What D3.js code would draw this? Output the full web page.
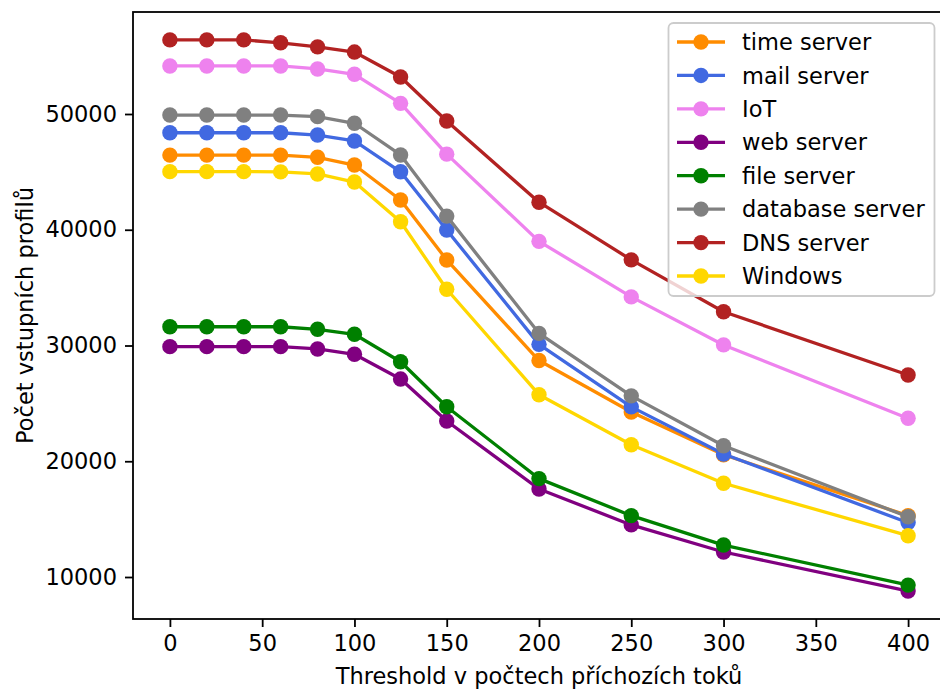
<!DOCTYPE html>
<html><head><meta charset="utf-8">
<script src="https://cdn.jsdelivr.net/npm/d3@7"></script>
<style>
html,body{margin:0;padding:0;background:#fff;}
text{font-family:"DejaVu Sans",sans-serif;}
</style></head>
<body>
<svg id="chart" width="940" height="690"></svg>
<script>
const thresholds = [0, 20, 40, 60, 80, 100, 125, 150, 200, 250, 300, 400];
const seriesNames = ["time server","mail server","IoT","web server","file server","database server","DNS server","Windows"];
const seriesColors = ["darkorange","royalblue","violet","purple","green","grey","firebrick","gold"];
const timeServer     = [46450, 46450, 46450, 46450, 46260, 45590, 42570, 37390, 28700, 24250, 20560, 15300];
const mailServer     = [48380, 48380, 48380, 48380, 48180, 47670, 45010, 39980, 30100, 24700, 20620, 14700];
const iot            = [54150, 54150, 54150, 54150, 53890, 53430, 50920, 46530, 39000, 34200, 30050, 23710];
const webServer      = [29900, 29900, 29900, 29900, 29700, 29240, 27100, 23480, 17600, 14500, 12160, 8790];
const fileServer     = [31620, 31620, 31620, 31620, 31400, 30970, 28600, 24710, 18500, 15300, 12760, 9300];
const databaseServer = [49910, 49910, 49910, 49910, 49770, 49200, 46460, 41180, 31050, 25650, 21340, 15200];
const dnsServer      = [56400, 56400, 56400, 56150, 55800, 55350, 53200, 49390, 42380, 37400, 32920, 27450];
const windows        = [45020, 45020, 45020, 45000, 44820, 44120, 40690, 34860, 25750, 21430, 18100, 13570];
const xTicks = [0, 50, 100, 150, 200, 250, 300, 350, 400];
const yTicks = [10000, 20000, 30000, 40000, 50000];
const xLabel = "Threshold v počtech příchozích toků";
const yLabel = "Počet vstupních profilů";

const seriesValues = [timeServer, mailServer, iot, webServer, fileServer, databaseServer, dnsServer, windows];

const svg = d3.select("#chart");
const L = 133, R = 945, T = 12, B = 619;
const fs = 22.5;
const x = d3.scaleLinear().domain([-20, 420]).range([L, R]);
const y = d3.scaleLinear().domain([6372, 58812]).range([B, T]);

// lines and markers
const line = d3.line().x((d,i) => x(thresholds[i])).y(d => y(d));
const plot = svg.append("g");
seriesValues.forEach((vals, si) => {
  const g = plot.append("g");
  g.append("path").datum(vals).attr("d", line)
    .attr("fill","none").attr("stroke", seriesColors[si]).attr("stroke-width", 3.3)
    .attr("stroke-linejoin","round").attr("stroke-linecap","square");
  g.selectAll("circle").data(vals).join("circle")
    .attr("cx", (d,i) => x(thresholds[i])).attr("cy", d => y(d)).attr("r", 7.7)
    .attr("fill", seriesColors[si]);
});

// axes
const xAxis = d3.axisBottom(x).tickValues(xTicks).tickSize(8).tickPadding(8).tickFormat(d3.format("d"));
const yAxis = d3.axisLeft(y).tickValues(yTicks).tickSize(8).tickPadding(8).tickFormat(d3.format("d"));
const gx = svg.append("g").attr("transform", `translate(0,${B})`).call(xAxis);
const gy = svg.append("g").attr("transform", `translate(${L},0)`).call(yAxis);
[gx, gy].forEach(g => {
  g.select(".domain").remove();
  g.selectAll(".tick line").attr("stroke","#000").attr("stroke-width",1.8);
  g.selectAll(".tick text").attr("font-size", fs).attr("fill","#000").attr("font-family","DejaVu Sans");
});
// spines
svg.append("rect").attr("x", L).attr("y", T).attr("width", R-L).attr("height", B-T)
  .attr("fill","none").attr("stroke","#000").attr("stroke-width",1.8);

// axis labels
svg.append("text").attr("x", (L+R)/2).attr("y", 684).attr("text-anchor","middle")
  .attr("font-size", fs).text(xLabel);
svg.append("text").attr("transform", `translate(33,${(T+B)/2}) rotate(-90)`).attr("text-anchor","middle")
  .attr("font-size", fs).text(yLabel);

// legend
const lg = svg.append("g");
lg.append("rect").attr("x", 668.5).attr("y", 23).attr("width", 266).attr("height", 273)
  .attr("rx", 5).attr("fill","rgba(255,255,255,0.8)").attr("stroke","#cccccc").attr("stroke-width",1.8);
seriesNames.forEach((n, i) => {
  const cy = 42 + i * 33.43;
  lg.append("line").attr("x1", 677).attr("x2", 725).attr("y1", cy).attr("y2", cy)
    .attr("stroke", seriesColors[i]).attr("stroke-width", 3.3);
  lg.append("circle").attr("cx", 701).attr("cy", cy).attr("r", 7.7).attr("fill", seriesColors[i]);
  lg.append("text").attr("x", 742).attr("y", cy).attr("dy","0.36em").attr("font-size", fs).text(n);
});
</script>
</body></html>
